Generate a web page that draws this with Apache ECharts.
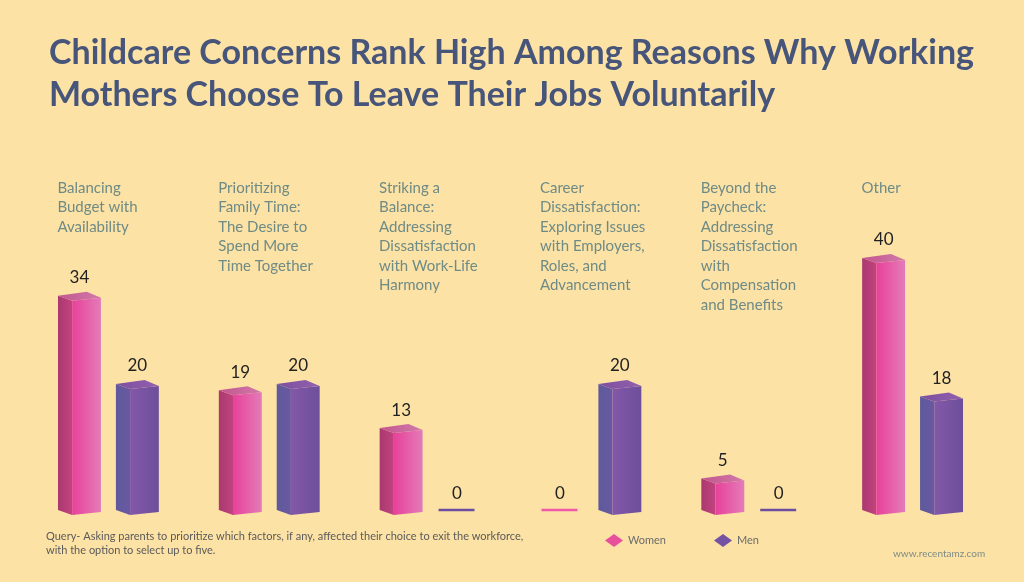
<!DOCTYPE html>
<html>
<head>
<meta charset="utf-8">
<script src="https://cdn.jsdelivr.net/npm/echarts@6/dist/echarts.min.js"></script>
<style>
  html, body { margin: 0; padding: 0; background: #fde2a6; }
  #main { width: 1024px; height: 582px; }
</style>
</head>
<body>
<div id="main"></div>
<script>
// categories (line breaks as in the picture)
let categories = [
    "Balancing\nBudget with\nAvailability",
    "Prioritizing\nFamily Time:\nThe Desire to\nSpend More\nTime Together",
    "Striking a\nBalance:\nAddressing\nDissatisfaction\nwith Work-Life\nHarmony",
    "Career\nDissatisfaction:\nExploring Issues\nwith Employers,\nRoles, and\nAdvancement",
    "Beyond the\nPaycheck:\nAddressing\nDissatisfaction\nwith\nCompensation\nand Benefits",
    "Other"
];
let women = [34, 19, 13, 0, 5, 40];
let men = [20, 20, 0, 20, 0, 18];

let titleText = "Childcare Concerns Rank High Among Reasons Why Working\nMothers Choose To Leave Their Jobs Voluntarily";
let noteText = "Query- Asking parents to prioritize which factors, if any, affected their choice to exit the workforce,\nwith the option to select up to five.";
let siteText = "www.recentamz.com";

let myChart = echarts.init(document.getElementById("main"));

// colours for each face of the fake 3d bars
let palette = {
    Women: {
        legend: "#e8509c",
        side: ["#a9396f", "#c2437f"],
        front: ["#e8419a", "#e37cb8"],
        top: ["#c2558e", "#d27aaa"],
        line: "#ef5aa8"
    },
    Men: {
        legend: "#7553a3",
        side: ["#5e5a9c", "#6a58a2"],
        front: ["#8358a9", "#6d4f9b"],
        top: ["#7b4f9f", "#9260ae"],
        line: "#6b4e9f"
    }
};

function hGrad(c) {
    return new echarts.graphic.LinearGradient(0, 0, 1, 0, [
        { offset: 0, color: c[0] },
        { offset: 1, color: c[1] }
    ]);
}

function makeRender(name, offset) {
    let pal = palette[name];
    return function (params, api) {
        let cat = api.value(0), val = api.value(1);
        let base = api.coord([cat, 0]);
        let top = api.coord([cat, val]);
        let band = api.size([1, 0])[0];
        let w = band * 0.267;
        let cx = base[0] + offset * band;
        let x0 = cx - w / 2, x1 = cx + w / 2;
        let xm = x0 + w * 0.33, xb = x0 + w * 0.67;
        let yb = base[1], yt = top[1];
        let font = "17px Lato";
        if (val === 0) {
            return {
                type: "group",
                children: [
                    { type: "line", shape: { x1: x0 + 1, y1: yb, x2: x1 - 6, y2: yb },
                      style: { stroke: pal.line, lineWidth: 2.5 } },
                    { type: "text", x: cx - 2, y: yb - 16,
                      style: { text: String(val), font: font, fill: "#222", align: "center", verticalAlign: "middle" } }
                ]
            };
        }
        return {
            type: "group",
            children: [
                { type: "polygon", shape: { points: [[x0, yt], [xm, yt + 5], [xm, yb + 5], [x0, yb]] },
                  style: { fill: hGrad(pal.side) } },
                { type: "polygon", shape: { points: [[xm, yt + 5], [x1, yt + 2], [x1, yb + 2], [xm, yb + 5]] },
                  style: { fill: hGrad(pal.front) } },
                { type: "polygon", shape: { points: [[x0, yt], [xb, yt - 4], [x1, yt + 2], [xm, yt + 5]] },
                  style: { fill: hGrad(pal.top) } },
                { type: "text", x: cx, y: yt - 18,
                  style: { text: String(val), font: font, fill: "#222", align: "center", verticalAlign: "middle" } }
            ]
        };
    };
}

let option = {
    backgroundColor: "#fde2a6",
    animation: false,
    title: {
        text: titleText,
        left: 44,
        top: 27,
        textStyle: {
            fontFamily: "Lato",
            fontWeight: "bold",
            fontSize: 34,
            lineHeight: 42,
            color: "#465579"
        }
    },
    legend: {
        left: 600,
        top: 529,
        icon: "diamond",
        itemWidth: 18,
        itemHeight: 13,
        itemGap: 48,
        textStyle: { fontFamily: "Lato", fontSize: 11, color: "#6b6b6b" },
        data: ["Women", "Men"]
    },
    grid: { left: 28, right: 31, top: 195, bottom: 72 },
    xAxis: {
        type: "category",
        data: categories,
        axisLine: { show: false },
        axisTick: { show: false },
        axisLabel: { show: false }
    },
    yAxis: {
        type: "value",
        min: 0,
        max: 50,
        show: false,
        splitLine: { show: false }
    },
    series: [
        {
            name: "Women",
            type: "custom",
            itemStyle: { color: palette.Women.legend },
            renderItem: makeRender("Women", -0.18),
            data: women.map((v, i) => [i, v])
        },
        {
            name: "Men",
            type: "custom",
            itemStyle: { color: palette.Men.legend },
            renderItem: makeRender("Men", 0.18),
            data: men.map((v, i) => [i, v])
        }
    ]
};

myChart.setOption(option);

// category texts above every group, placed from the axis scale
let labels = categories.map((c, i) => {
    let px = myChart.convertToPixel({ xAxisIndex: 0 }, i);
    return {
        type: "text",
        left: px - 51,
        top: 178,
        style: { text: c, font: "15px Lato", lineHeight: 19.5, fill: "#6e8b86" }
    };
});
labels.push(
    { type: "text", left: 46, top: 529,
      style: { text: noteText, font: "11px Lato", lineHeight: 14, fill: "#5a5a5a" } },
    { type: "text", left: 893, top: 549,
      style: { text: siteText, font: "10px Lato", fill: "#7d8c86" } }
);
myChart.setOption({ graphic: labels });
</script>
</body>
</html>
